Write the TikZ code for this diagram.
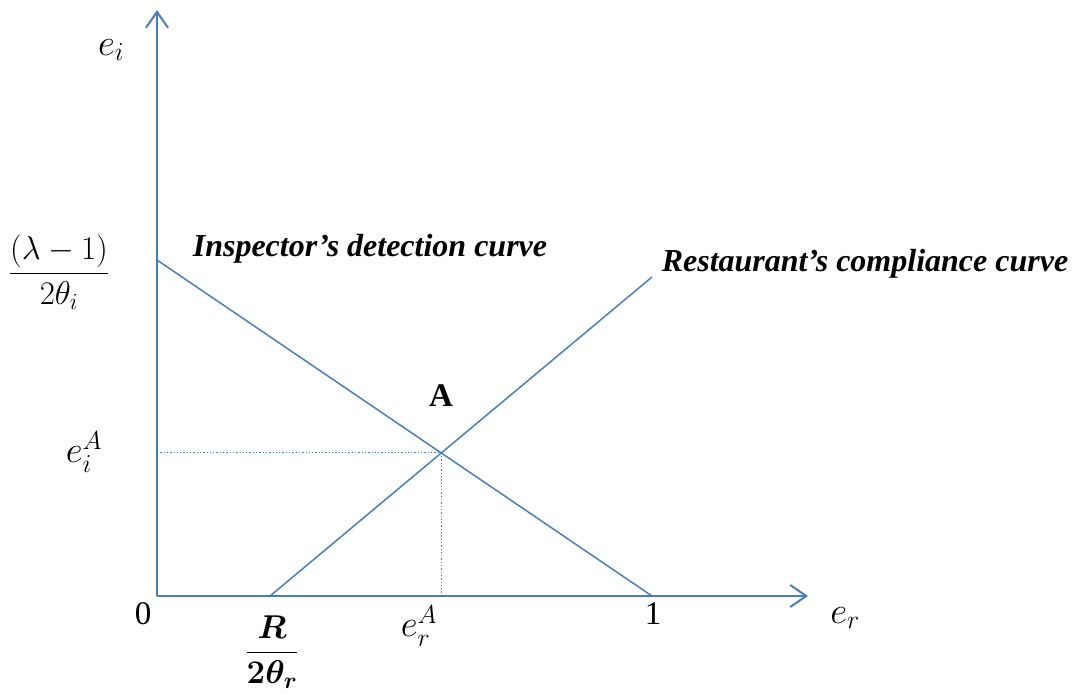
\RequirePackage{fix-cm}
\documentclass[tikz,border=0pt]{standalone}
\usepackage{amsmath}
\usepackage{bm}
\usepackage{fontspec}
\setmainfont{Liberation Serif}
\usetikzlibrary{arrows.meta}
\definecolor{wblue}{HTML}{4A7EBB}
\begin{document}
\begin{tikzpicture}[x=1pt,y=-1pt,
  axis/.style={wblue,line width=2pt,-{Straight Barb[length=16pt,width=22pt,line width=2pt]}},
  curve/.style={wblue,line width=1.5pt},
  guide/.style={wblue,line width=1.3pt,dotted},
  lbl/.style={font=\fontsize{33}{38}\selectfont,inner sep=0pt},
  elbl/.style={font=\fontsize{37}{42}\selectfont,inner sep=0pt},
  ttl/.style={font=\fontsize{32}{36}\selectfont\bfseries\itshape,inner sep=0pt}]
\useasboundingbox (0,0) rectangle (1072,694);
\coordinate (O) at (157,596);
\coordinate (Ytop) at (157,10);
\coordinate (Xend) at (808,596);
\coordinate (I0) at (157,260);
\coordinate (I1) at (652,596);
\coordinate (R0) at (270,596);
\coordinate (R1) at (652,277);
\coordinate (A) at (441.3,452.8);
\coordinate (Ay) at (157,452.8);
\coordinate (Ax) at (441.3,596);
\draw[guide] (Ay) -- (A);
\draw[guide] (A) -- (Ax);
\draw[curve] (I0) -- (I1);
\draw[curve] (R0) -- (R1);
\draw[axis] (O) -- (Ytop);
\draw[axis] (O) -- (Xend);
\node[elbl] (ei) at (111,50) {$e_i$};
\node[lbl] (frac1) at (59,272) {$\dfrac{(\lambda-1)}{2\theta_i}$};
\node[elbl] (eiA) at (84,452) {$e_i^A$};
\node[lbl] (zero) at (143,614) {0};
\node[lbl] (Rfrac) at (272,652) {$\dfrac{\bm{R}}{\bm{2\theta_r}}$};
\node[elbl] (erA) at (419,626) {$e_r^A$};
\node[lbl] (one) at (653,614) {1};
\node[elbl] (er) at (845,618) {$e_r$};
\node[ttl] (insp) at (370,249) {Inspector’s detection curve};
\node[ttl] (rest) at (865,264) {Restaurant’s compliance curve};
\node[lbl,font=\fontsize{33}{38}\selectfont\bfseries] (Alab) at (441,396) {A};
\end{tikzpicture}
\end{document}
